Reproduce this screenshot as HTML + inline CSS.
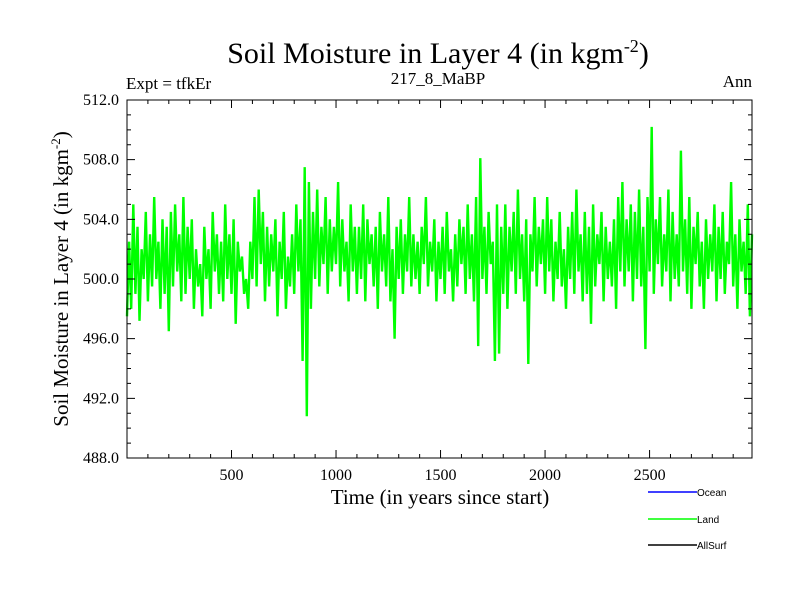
<!DOCTYPE html>
<html><head><meta charset="utf-8"><style>
body{margin:0;background:#fff;}
svg text{font-family:"Liberation Serif",serif;}
</style></head><body>
<svg width="800" height="600" xmlns="http://www.w3.org/2000/svg">
<text x="438" y="63" font-size="30" text-anchor="middle">Soil Moisture in Layer 4 (in kgm<tspan dy="-11" font-size="18">-2</tspan><tspan dy="11">)</tspan></text>
<text x="126" y="89" font-size="17">Expt = tfkEr</text>
<text x="438" y="84" font-size="17" text-anchor="middle">217_8_MaBP</text>
<text x="752" y="87" font-size="17" text-anchor="end">Ann</text>
<g id="plot"></g>
<text x="440" y="504" font-size="21" text-anchor="middle">Time (in years since start)</text>
<text transform="translate(68,279) rotate(-90)" font-size="21" text-anchor="middle">Soil Moisture in Layer 4 (in kgm<tspan dy="-8" font-size="13">-2</tspan><tspan dy="8">)</tspan></text>
<g>
<line x1="648" y1="492" x2="697" y2="492" stroke="#0000ff" stroke-width="1.5"/>
<text x="697" y="496" font-size="10" style="font-family:'Liberation Sans',sans-serif">Ocean</text>
<line x1="648" y1="519" x2="697" y2="519" stroke="#00ff00" stroke-width="1.5"/>
<text x="697" y="523" font-size="10" style="font-family:'Liberation Sans',sans-serif">Land</text>
<line x1="648" y1="545" x2="697" y2="545" stroke="#000" stroke-width="1.5"/>
<text x="697" y="549" font-size="10" style="font-family:'Liberation Sans',sans-serif">AllSurf</text>
</g>
</svg>
<script>
const landStart = 0;
const landStep = 10;
const landValues = [
497.5,502.5,498.0,505.0,499.0,503.5,497.2,502.0,500.0,504.5,498.5,503.0,499.5,505.5,500.0,502.5,498.0,504.0,499.0,503.5,
496.5,504.5,499.5,505.0,500.5,503.0,498.5,505.5,499.0,503.5,500.0,504.0,498.0,502.0,499.5,501.0,497.5,503.5,500.0,502.0,
498.0,504.5,500.5,503.0,499.0,502.5,498.5,505.0,500.0,503.0,499.0,504.0,497.0,502.5,500.5,501.5,499.0,500.0,498.0,502.5,
500.0,505.5,499.5,506.0,501.0,504.5,498.5,503.5,499.5,503.0,500.5,504.0,497.5,502.5,500.0,504.5,498.0,501.5,499.5,503.0,
499.0,505.0,500.5,504.0,494.5,507.5,490.8,506.5,498.0,504.5,500.0,506.0,499.5,503.5,501.0,505.5,499.0,504.0,500.5,503.5,
501.0,506.5,499.5,504.0,500.5,502.5,498.5,505.0,500.5,503.5,499.0,503.5,500.0,505.0,498.5,504.0,501.0,503.0,499.5,503.5,
498.0,504.5,500.5,503.0,499.5,505.5,498.5,502.0,496.0,503.5,500.0,504.0,499.0,503.0,500.5,505.5,499.5,503.0,500.0,502.5,
499.0,503.5,501.0,505.5,499.5,502.5,500.5,504.0,498.5,502.5,500.0,503.5,499.0,504.5,500.5,502.0,498.5,503.0,499.5,504.0,
501.0,503.5,499.0,505.0,500.0,503.0,498.5,505.5,495.5,508.1,500.0,503.5,499.0,504.5,501.0,502.5,494.5,505.0,495.0,503.5,
499.0,505.0,498.0,503.5,500.5,504.5,499.0,506.0,500.0,503.0,498.5,504.0,494.3,503.0,500.5,505.5,499.5,503.5,501.0,504.0,
499.0,505.5,500.5,504.0,498.5,502.5,500.0,504.5,499.5,502.0,498.0,503.5,500.0,504.5,499.0,506.0,500.5,503.0,498.5,504.5,
499.0,503.5,497.0,505.0,499.5,503.0,501.0,504.5,498.5,503.5,500.0,502.5,499.5,504.0,498.0,505.5,500.5,506.5,499.5,504.0,
500.5,505.0,498.5,504.5,500.0,506.0,499.5,503.5,495.3,505.5,500.5,510.2,499.0,504.0,501.0,505.5,499.5,503.0,500.5,506.0,
498.5,504.5,500.0,503.0,499.5,508.6,500.5,504.0,499.0,505.5,498.0,503.5,501.0,504.5,499.5,502.5,498.0,504.0,500.0,503.0,
500.5,505.0,498.5,503.5,500.0,504.5,499.0,502.5,501.0,506.5,499.5,503.0,498.0,504.0,500.5,502.5,499.0,505.0,497.5,503.0
];
const xTickLabels = ["500","1000","1500","2000","2500"];
const xTickValues = [500,1000,1500,2000,2500];
const yTickLabels = ["488.0","492.0","496.0","500.0","504.0","508.0","512.0"];
const yTickValues = [488,492,496,500,504,508,512];

const L=127,R=752,T=100,B=458,XMIN=0,XMAX=2990,YMIN=488,YMAX=512;
const sx=v=>L+(v-XMIN)/(XMAX-XMIN)*(R-L);
const sy=v=>B-(v-YMIN)/(YMAX-YMIN)*(B-T);
const NS="http://www.w3.org/2000/svg";
const g=document.getElementById('plot');
function mk(tag,attrs){const e=document.createElementNS(NS,tag);for(const k in attrs)e.setAttribute(k,attrs[k]);g.appendChild(e);return e;}

const pts=landValues.map((v,i)=>sx(landStart+i*landStep).toFixed(1)+","+sy(v).toFixed(1)).join(" ");
const line=mk('polyline',{points:pts,fill:'none',stroke:'#00ff00','stroke-width':'2.4','stroke-linejoin':'miter','stroke-miterlimit':'2'});



const frame=mk('rect',{x:L,y:T,width:R-L,height:B-T,fill:'none',stroke:'#000','stroke-width':'1'});



let d="";
for(let v=100;v<XMAX;v+=100){const x=sx(v);const len=(v%500===0)?8:4;d+=`M${x},${B}v${-len}M${x},${T}v${len}`;}
for(let v=YMIN+1;v<YMAX;v++){const y=sy(v);const len=(v%4===0)?8:4;d+=`M${L},${y}h${len}M${R},${y}h${-len}`;}
const ticks=mk('path',{d:d,stroke:'#000','stroke-width':'1',fill:'none'});



xTickValues.forEach((v,i)=>{
  const t=mk('text',{x:sx(v),y:B+22,'font-size':'16','text-anchor':'middle'});
  t.textContent=xTickLabels[i];
  
  
});
yTickValues.forEach((v,i)=>{
  const t=mk('text',{x:L-8,y:sy(v)+5,'font-size':'16','text-anchor':'end'});
  t.textContent=yTickLabels[i];
  
  
});
</script>
</body></html>
